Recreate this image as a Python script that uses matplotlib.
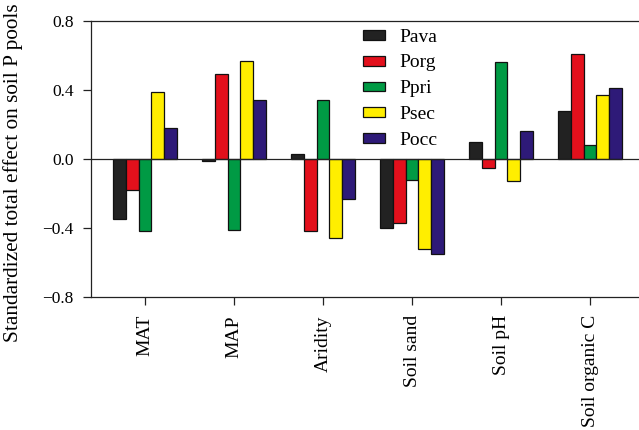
import numpy as np
import matplotlib.pyplot as plt

plt.rcParams['font.family'] = ['Liberation Serif', 'DejaVu Serif']

# drivers on the x axis
factors = ['MAT', 'MAP', 'Aridity', 'Soil sand', 'Soil pH', 'Soil organic C']

# standardized total effects per P pool
pava = [-0.35, -0.01, 0.03, -0.40, 0.10, 0.28]
porg = [-0.18, 0.49, -0.42, -0.37, -0.05, 0.61]
ppri = [-0.42, -0.41, 0.34, -0.12, 0.56, 0.08]
psec = [0.39, 0.57, -0.46, -0.52, -0.13, 0.37]
pocc = [0.18, 0.34, -0.23, -0.55, 0.16, 0.41]

series = [('Pava', pava, '#222222'),
          ('Porg', porg, '#e3101c'),
          ('Ppri', ppri, '#009a44'),
          ('Psec', psec, '#ffee00'),
          ('Pocc', pocc, '#2e1a78')]

fig = plt.figure(figsize=(6.39, 4.30), dpi=100)
ax = fig.add_axes([0.1424, 0.3093, 0.8576, 0.6419])

x = np.arange(len(factors))
w = 0.144
for i, (name, vals, col) in enumerate(series):
    ax.bar(x + (i - 2) * w, vals, width=w, color=col, edgecolor='#111111',
           linewidth=0.9, label=name)

ax.axhline(0, color='#222222', linewidth=0.9)

ax.set_xlim(-0.607, 5.55)
ax.set_ylim(-0.8, 0.8)
ax.set_yticks([-0.8, -0.4, 0.0, 0.4, 0.8])
ax.set_yticklabels(['\u22120.8', '\u22120.4', '0.0', '0.4', '0.8'])
ax.set_xticks(x)
ax.set_xticklabels(factors, rotation=90)
ax.tick_params(axis='both', length=6, width=0.9, color='#222222')
ax.tick_params(axis='y', labelsize=12.5, pad=6.5)
ax.tick_params(axis='x', labelsize=14, pad=7)
ax.spines['right'].set_visible(False)
for s in ['left', 'top', 'bottom']:
    ax.spines[s].set_linewidth(0.9)
    ax.spines[s].set_color('#222222')

ax.set_ylabel('Standardized total effect on soil P pools', fontsize=15.3)
ax.yaxis.set_label_coords(-0.124, 0.45)

leg = ax.legend(loc='upper left', bbox_to_anchor=(0.465, 1.036), frameon=False,
                fontsize=14, handlelength=1.13, handleheight=0.41,
                labelspacing=0.46, handletextpad=0.72)

plt.savefig('out.png', dpi=100)
